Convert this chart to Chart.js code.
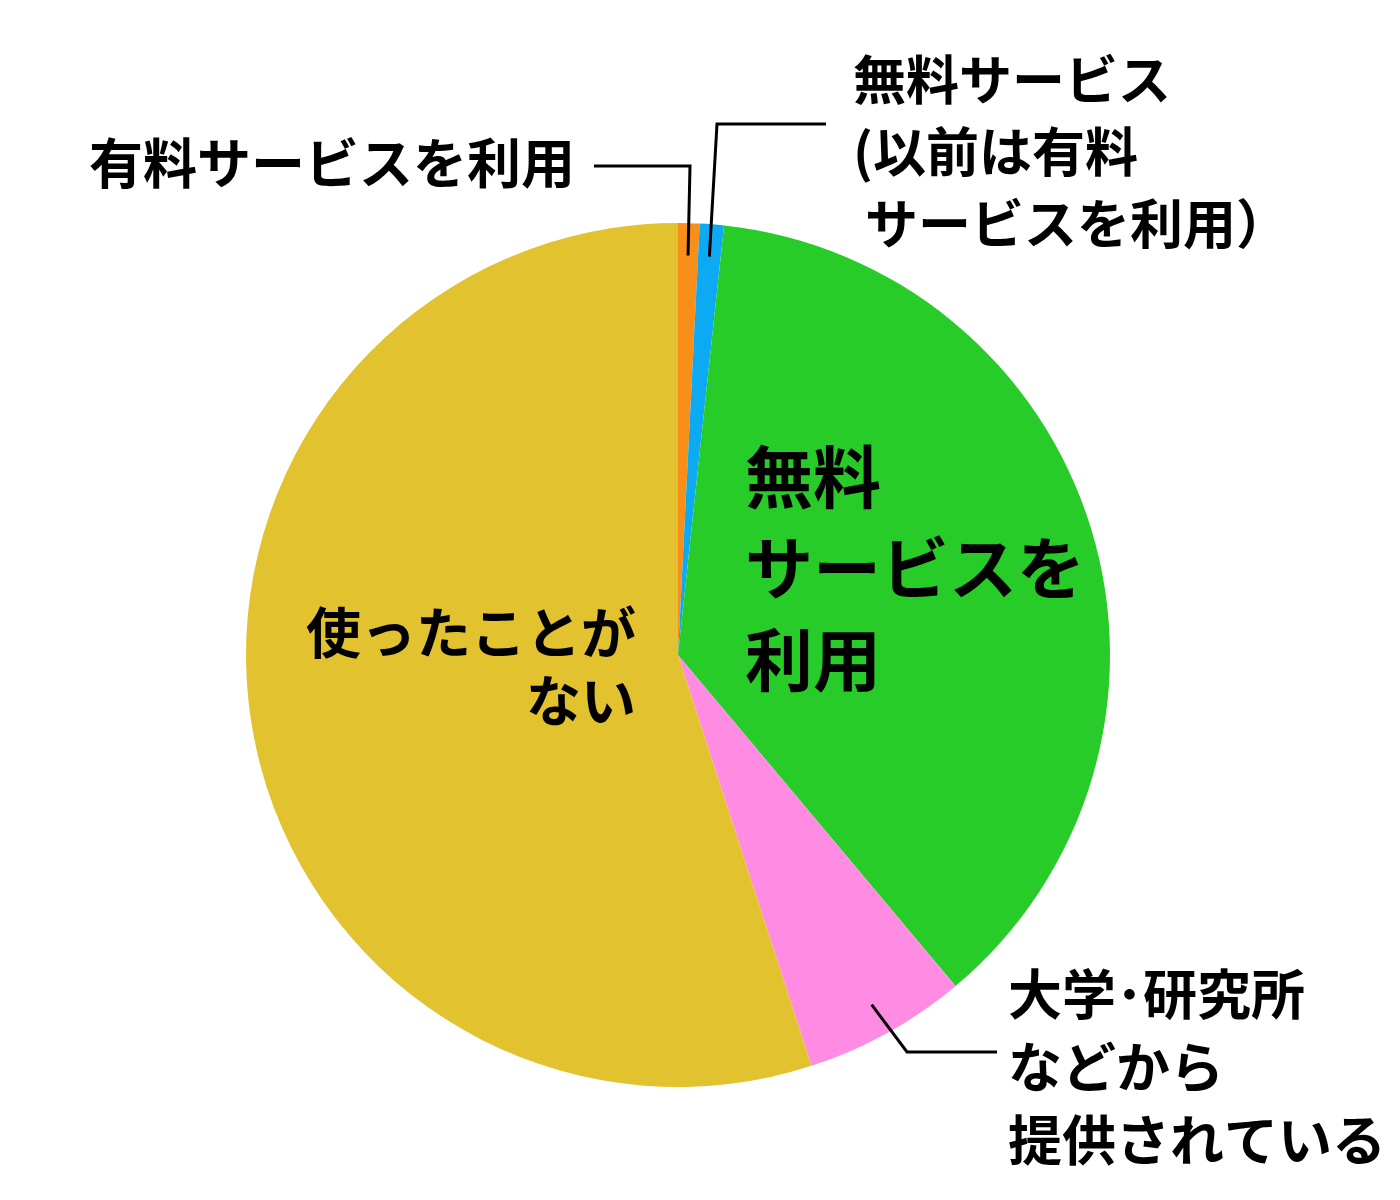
<!DOCTYPE html>
<html>
<head>
<meta charset="utf-8">
<script src="https://cdn.jsdelivr.net/npm/chart.js@4.4.0/dist/chart.umd.min.js"></script>
<style>
  html, body { margin: 0; padding: 0; background: #ffffff; }
  #wrap { width: 1400px; height: 1200px; position: relative; }
</style>
</head>
<body>
<div id="wrap"><canvas id="c" width="1400" height="1200"></canvas></div>
<script>
// ---- data ----
const categories = [
  "有料サービスを利用",
  "無料サービス(以前は有料サービスを利用)",
  "無料サービスを利用",
  "大学・研究所などから提供されている",
  "使ったことがない"
];
const shares = [0.8, 0.9, 37.2, 6.1, 55.0];
const sliceColors = ["#F98E18", "#0DAAF4", "#27CC28", "#FF8BE3", "#E2C22F"];

// label lines shown on the chart (per slice)
const labelLines = [
  ["有料サービスを利用"],
  ["無料サービス", "(以前は有料", " サービスを利用）"],
  ["無料", "サービスを", "利用"],
  ["大学･研究所", "などから", "提供されている"],
  ["使ったことが", "ない"]
];

// annotation layout (text placement & leader lines)
const FONT = '"Noto Sans CJK JP", "Noto Sans", sans-serif';
const labelLayout = [
  { x: 575, y: 163, align: "right", size: 54, lh: 72, leader: { elbow: [690, 166], end: [594, 166] } },
  { x: 853, y: 80,  align: "left",  size: 53, lh: 72, leader: { elbow: [717, 124], end: [826, 124] } },
  { x: 745, y: 477, align: "left",  size: 68, lh: 91.5, leader: null },
  { x: 1008, y: 994, align: "left", size: 54, lh: 73, leader: { elbow: [907, 1052], end: [997, 1052] } },
  { x: 636, y: 632, align: "right", size: 55, lh: 68, leader: null }
];

const labelPlugin = {
  id: "sliceLabels",
  afterDraw(chart) {
    const ctx = chart.ctx;
    const meta = chart.getDatasetMeta(0);
    ctx.save();
    // leader lines
    ctx.strokeStyle = "#000";
    ctx.lineWidth = 3;
    ctx.lineJoin = "miter";
    meta.data.forEach((arc, i) => {
      const L = labelLayout[i].leader;
      if (!L) return;
      const p = arc.getProps(["x", "y", "startAngle", "endAngle", "outerRadius"], true);
      const mid = (p.startAngle + p.endAngle) / 2;
      const ax = p.x + Math.cos(mid) * p.outerRadius * 0.925;
      const ay = p.y + Math.sin(mid) * p.outerRadius * 0.925;
      ctx.beginPath();
      ctx.moveTo(ax, ay);
      ctx.lineTo(L.elbow[0], L.elbow[1]);
      ctx.lineTo(L.end[0], L.end[1]);
      ctx.stroke();
    });
    // texts
    ctx.fillStyle = "#000";
    ctx.textBaseline = "middle";
    labelLines.forEach((lines, i) => {
      const cfg = labelLayout[i];
      ctx.font = "bold " + cfg.size + "px " + FONT;
      ctx.textAlign = cfg.align;
      lines.forEach((t, k) => {
        ctx.fillText(t, cfg.x, cfg.y + k * cfg.lh);
      });
    });
    ctx.restore();
  }
};

new Chart(document.getElementById("c"), {
  type: "pie",
  data: {
    labels: categories,
    datasets: [{
      data: shares,
      backgroundColor: sliceColors,
      borderWidth: 0,
      hoverOffset: 0
    }]
  },
  options: {
    responsive: false,
    devicePixelRatio: 1,
    animation: false,
    layout: { padding: { top: 223, bottom: 113, left: 246, right: 290 } },
    plugins: {
      legend: { display: false },
      tooltip: { enabled: false }
    }
  },
  plugins: [labelPlugin]
});
</script>
</body>
</html>
